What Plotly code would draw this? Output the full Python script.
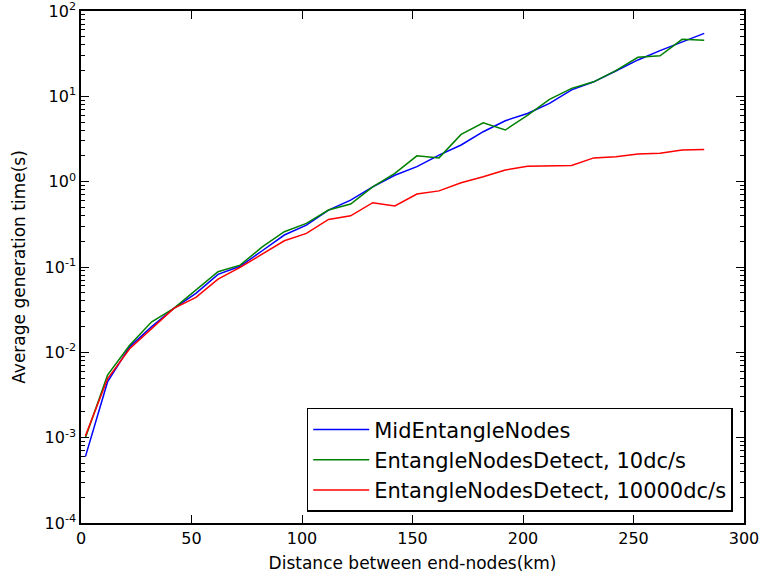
import plotly.graph_objects as go

distance_km = [2, 12, 22, 32, 42, 52, 62, 72, 82, 92, 102, 112, 122, 132, 142,
               152, 162, 172, 182, 192, 202, 212, 222, 232, 242, 252, 262, 272, 282]

mid_entangle = [6.0e-4, 4.5e-3, 0.0116, 0.020, 0.0327, 0.049, 0.082, 0.102, 0.155,
                0.237, 0.31, 0.465, 0.608, 0.87, 1.19, 1.50, 2.05, 2.69, 3.85, 5.18,
                6.3, 8.28, 11.9, 14.8, 19.8, 26.7, 34.3, 43.7, 54.7]

detect_10 = [1.0e-3, 5.4e-3, 0.0121, 0.0228, 0.0327, 0.0536, 0.088, 0.105, 0.172,
             0.259, 0.324, 0.465, 0.546, 0.87, 1.25, 2.01, 1.90, 3.58, 4.9, 4.03,
             6.0, 9.2, 12.4, 14.8, 20.0, 28.7, 29.9, 46.6, 45.3]

detect_10000 = [1.05e-3, 4.9e-3, 0.011, 0.019, 0.0327, 0.044, 0.072, 0.099, 0.142,
                0.203, 0.248, 0.361, 0.398, 0.567, 0.52, 0.716, 0.78, 0.97, 1.14,
                1.37, 1.52, 1.52, 1.55, 1.9, 1.96, 2.11, 2.15, 2.35, 2.39]

series_names = ["MidEntangleNodes", "EntangleNodesDetect, 10dc/s",
                "EntangleNodesDetect, 10000dc/s"]
series_colors = ["#0000ff", "#008000", "#ff0000"]

x_ticks = [0, 50, 100, 150, 200, 250, 300]
y_exponents = [-4, -3, -2, -1, 0, 1, 2]

fig = go.Figure()
for name, vals, col in zip(series_names, [mid_entangle, detect_10, detect_10000], series_colors):
    fig.add_trace(go.Scatter(x=distance_km, y=vals, mode="lines", name=name,
                             line=dict(color=col, width=1.5)))

minor_vals = [m * 10 ** e for e in range(-4, 2) for m in range(2, 10)]

font_family = "DejaVu Sans"
fig.update_layout(
    width=760, height=579,
    margin=dict(l=81, r=16, t=11, b=56),
    paper_bgcolor="white", plot_bgcolor="white",
    font=dict(family=font_family, color="black", size=16),
    showlegend=True,
    legend=dict(x=0.983, y=0.022, xanchor="right", yanchor="bottom",
                bordercolor="black", borderwidth=1.5, bgcolor="white",
                font=dict(size=21, family=font_family), tracegroupgap=0,
                itemwidth=56),
    xaxis=dict(range=[0, 300], tickvals=x_ticks, ticks="inside", ticklen=8,
               tickwidth=1, tickcolor="black", showline=True, linecolor="black",
               linewidth=1.5, mirror="ticks", showgrid=False, zeroline=False,
               automargin=False, ticklabeloverflow="allow", tickfont=dict(size=16),
               title=dict(text="Distance between end-nodes(km)", font=dict(size=17),
                          standoff=10)),
    yaxis=dict(type="log", range=[-4, 2],
               tickvals=[10 ** e for e in y_exponents],
               ticktext=["10<sup>%d</sup>" % e for e in y_exponents],
               ticks="inside", ticklen=8, tickwidth=1, tickcolor="black",
               showline=True, linecolor="black", linewidth=1.5, mirror="ticks",
               showgrid=False, zeroline=False, automargin=False,
               ticklabeloverflow="allow", tickfont=dict(size=16),
               minor=dict(tickvals=minor_vals, ticks="inside", ticklen=4,
                          tickcolor="black", tickwidth=1, showgrid=False),
               title=dict(text="Average generation time(s)", font=dict(size=17),
                          standoff=15)),
)

fig.write_html("out.html")
